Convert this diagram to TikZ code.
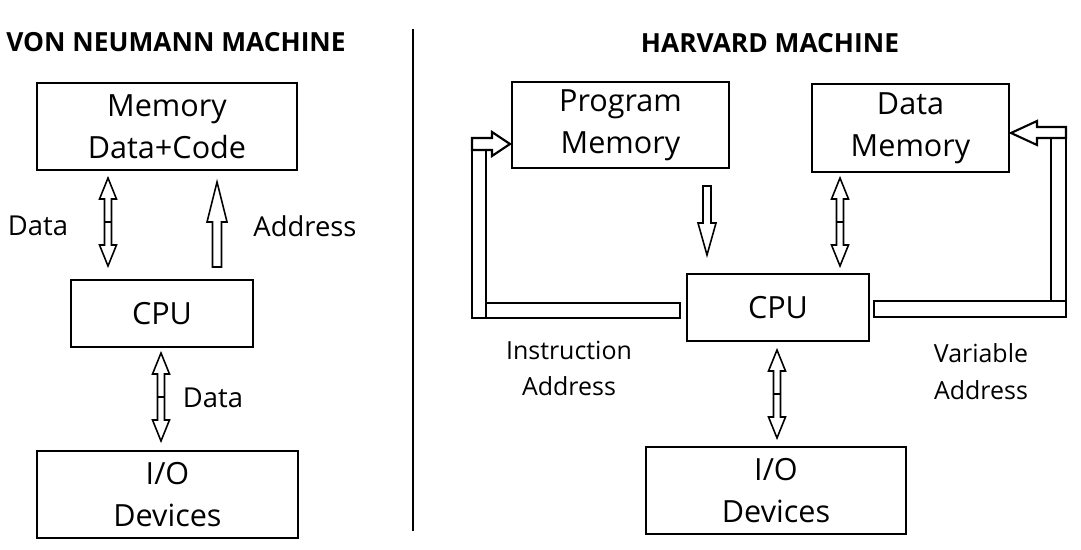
\documentclass[tikz,border=0pt]{standalone}
\usepackage{fontspec}
\setmainfont{Open Sans}
\begin{document}
\begin{tikzpicture}[x=0.02cm,y=-0.02cm,line join=miter,
	box/.style={draw,line width=1.2pt,align=center,inner sep=0pt,font=\fontsize{17.4}{24}\selectfont},
	lbl/.style={anchor=base,font=\fontsize{15.6}{20}\selectfont},
	sublbl/.style={align=center,font=\fontsize{14.2}{21}\selectfont},
	ttl/.style={anchor=base,font=\fontsize{15}{18}\selectfont\bfseries},
	blk/.style={draw,line width=0.9pt,fill=white},
	pipe/.style={draw,line width=1.2pt,fill=white}]
			\useasboundingbox (0,0) rectangle (1081,550);
			% von Neumann side
			\node[ttl] (vntitle) at (176,52) {VON NEUMANN MACHINE};
			\node[box,minimum width=5.2cm,minimum height=1.74cm] (mem) at (167,126.5) {Memory\\Data+Code};
			\node[box,minimum width=3.64cm,minimum height=1.34cm] (cpuL) at (162,313.5) {CPU};
			\node[box,minimum width=5.22cm,minimum height=1.74cm] (ioL) at (167.5,494.5) {I/O\\Devices};
			\node[lbl] (ldata) at (38,236) {Data};
			\node[lbl] (laddr) at (305,237) {Address};
			\node[lbl] (liodata) at (213,407) {Data};
			\draw[blk] (217,182) -- (227,222) -- (221.5,222) -- (221.5,267) -- (212.5,267) -- (212.5,222) -- (207,222) -- cycle;
			\draw[line width=1.2pt] (413,29) -- (413,531);
			% Harvard side
			\node[ttl] (hvtitle) at (770,53) {HARVARD MACHINE};
			\node[box,minimum width=4.34cm,minimum height=1.72cm] (pmem) at (620.5,125) {Program\\Memory};
			\node[box,minimum width=3.94cm,minimum height=1.76cm] (dmem) at (910.5,128) {Data\\Memory};
			\node[box,minimum width=3.64cm,minimum height=1.34cm] (cpuR) at (778,307.5) {CPU};
			\node[box,minimum width=5.2cm,minimum height=1.74cm] (ioR) at (776,490.5) {I/O\\Devices};
			\node[sublbl] (instr) at (569,368.5) {Instruction\\Address};
			\node[sublbl] (varaddr) at (981,372) {Variable\\Address};
			\draw[blk] (703,186) -- (711,186) -- (711,223) -- (716,223) -- (707,255) -- (698,223) -- (703,223) -- cycle;
			\draw[pipe] (472,150) rectangle (486,318);
			\draw[pipe] (486,303) rectangle (680,318);
			\draw[pipe] (472,138) -- (492,138) -- (492,132) -- (510,144) -- (492,156) -- (492,150) -- (472,150) -- cycle;
			\draw[pipe] (1051,138) rectangle (1066,301);
			\draw[pipe] (874,301) rectangle (1066,317);
			\draw[pipe] (1066,127) -- (1037,127) -- (1037,121) -- (1011,133) -- (1037,145) -- (1037,138) -- (1066,138) -- cycle;
			% two-way data arrows
			\foreach \ax/\ay in {108/178,161/353,840/178,777/350}
			\draw[blk,shift={(\ax,\ay)}] (0,0) -- (8.5,21) -- (3.5,21) -- (3.5,67) -- (8.5,67) -- (0,88) -- (-8.5,67) -- (-3.5,67) -- (-3.5,21) -- (-8.5,21) -- cycle (-3.5,44) -- (3.5,44);
\end{tikzpicture}
\end{document}
